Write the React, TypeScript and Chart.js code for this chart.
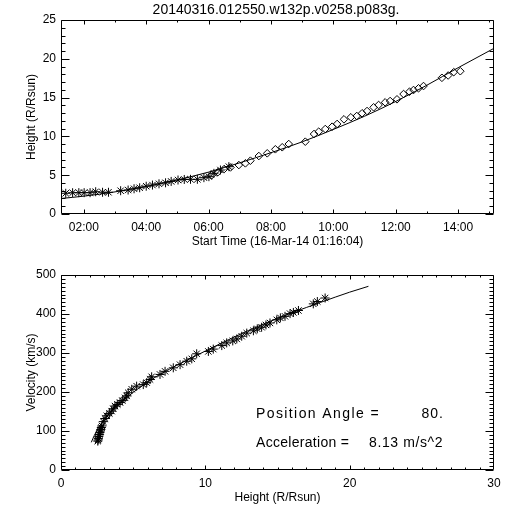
import React, { useEffect, useRef } from 'react';
import { Chart, registerables } from 'chart.js';

Chart.register(...registerables);

// ---------- Data ----------
const PLOT_TITLE = '20140316.012550.w132p.v0258.p083g.';

// Time axis (decimal hours on 16-Mar-14)
const timeMin = 1.268;
const timeMax = 15.15;
const timeTickValues = [2, 4, 6, 8, 10, 12, 14];
const timeTickLabels = ['02:00', '04:00', '06:00', '08:00', '10:00', '12:00', '14:00'];
const heightTickValues = [0, 5, 10, 15, 20, 25];

// Asterisk series (inner coronagraph)
const c2Times = [1.42, 1.64, 1.84, 2.01, 2.2, 2.38, 2.6, 2.79, 3.18, 3.42, 3.61, 3.79, 4.0, 4.2, 4.41, 4.62, 4.8, 5.02, 5.22, 5.42, 5.64, 5.85, 6.01, 6.17, 6.38, 6.65];
const c2Heights = [2.67, 2.74, 2.75, 2.75, 2.75, 2.87, 2.8, 2.8, 3.0, 3.09, 3.25, 3.38, 3.58, 3.73, 3.89, 4.02, 4.2, 4.38, 4.45, 4.47, 4.47, 4.68, 4.81, 5.24, 5.67, 6.1];

// Diamond series (outer coronagraph)
const c3Times = [6.1, 6.3, 6.5, 6.7, 6.97, 7.18, 7.34, 7.61, 7.88, 8.14, 8.36, 8.57, 9.1, 9.38, 9.53, 9.74, 9.96, 10.12, 10.34, 10.56, 10.75, 10.92, 11.08, 11.29, 11.45, 11.66, 11.82, 12.04, 12.25, 12.44, 12.57, 12.73, 12.89, 13.48, 13.68, 13.86, 14.07];
const c3Heights = [5.0, 5.4, 5.8, 6.0, 6.31, 6.53, 6.87, 7.47, 7.82, 8.34, 8.6, 9.02, 9.32, 10.31, 10.61, 10.95, 11.25, 11.6, 12.2, 12.46, 12.63, 12.98, 13.27, 13.75, 14.05, 14.39, 14.56, 14.78, 15.46, 15.76, 15.98, 16.2, 16.49, 17.55, 17.85, 18.28, 18.4];

// Height-time fit line
const fitTimes = [1.268, 2, 3, 4, 5, 6, 7, 8, 9, 10, 11, 12, 13, 14, 15.15];
const fitHeights = [2.0, 2.3, 2.85, 3.55, 4.4, 5.4, 6.6, 7.9, 9.3, 10.9, 12.6, 14.5, 16.6, 18.85, 21.35];

// Velocity vs height
const velHeightTicks = [0, 10, 20, 30];
const velTicks = [0, 100, 200, 300, 400, 500];
const velPtHeights = [2.55, 2.57, 2.59, 2.62, 2.66, 2.7, 2.73, 2.76, 2.8, 2.84, 2.93, 3.05, 3.17, 3.35, 3.51, 3.62, 3.74, 3.9, 4.09, 4.25, 4.44, 4.55, 4.66, 4.9, 5.24, 5.7, 5.94, 6.17, 6.28, 6.86, 7.21, 7.78, 8.25, 8.71, 9.06, 9.4, 10.21, 10.55, 11.14, 11.48, 11.9, 12.18, 12.52, 12.87, 13.33, 13.6, 13.9, 14.2, 14.48, 14.95, 15.2, 15.52, 15.87, 16.1, 16.45, 17.48, 17.76, 18.3];
const velPtValues = [74, 77, 81, 86, 91, 96, 100, 104, 109, 113, 124, 132, 139, 145, 151, 157, 164, 168, 173, 178, 185, 190, 198, 207, 215, 219, 224, 232, 239, 245, 253, 262, 270, 279, 285, 298, 304, 310, 319, 326, 331, 336, 343, 351, 357, 362, 366, 372, 377, 385, 390, 394, 401, 404, 409, 426, 432, 441];

const velFitHeights = [2.1, 2.3, 2.6, 3.0, 3.5, 4.0, 5.0, 6.0, 7.0, 8.0, 10.0, 12.0, 14.0, 16.0, 18.0, 20.0, 21.3];
const velFitValues = [71, 88, 108, 130, 150, 168, 199, 226, 248, 268, 305, 341, 374, 403, 430, 456, 471];

const POSITION_ANGLE = '80.';
const ACCELERATION = '8.13 m/s^2';

// ---------- Styling helpers ----------
const FONT_FAMILY = '"Liberation Sans", Arial, sans-serif';
const axisFont = { family: FONT_FAMILY, size: 12 };

const rangeTicks = (from: number, to: number, step: number, majorEvery: number) => {
  const out: [number, boolean][] = [];
  for (let v = from; v <= to + 1e-9; v += step) {
    out.push([v, Math.abs(v / majorEvery - Math.round(v / majorEvery)) < 1e-6]);
  }
  return out;
};

const idlFrame = {
  id: 'idlFrame',
  afterDraw(chart: any, _args: any, opts: any) {
    const { ctx, chartArea: a, scales } = chart;
    const xs = scales.x;
    const ys = scales.y;
    ctx.save();
    ctx.strokeStyle = '#000';
    ctx.lineWidth = 1;
    const L = Math.round(a.left) + 0.5;
    const R = Math.round(a.right) - 0.5;
    const T = Math.round(a.top) + 0.5;
    const B = Math.round(a.bottom) - 0.5;
    ctx.beginPath();
    ctx.rect(L, T, R - L, B - T);
    ctx.stroke();
    ctx.beginPath();
    for (const [v, major] of opts.xTicks) {
      const p = Math.round(xs.getPixelForValue(v)) + 0.5;
      if (p < L - 0.1 || p > R + 0.1) continue;
      const len = major ? opts.xLen : opts.xLen / 2;
      ctx.moveTo(p, B);
      ctx.lineTo(p, B - len);
      ctx.moveTo(p, T);
      ctx.lineTo(p, T + len);
    }
    for (const [v, major] of opts.yTicks) {
      const p = Math.round(ys.getPixelForValue(v)) + 0.5;
      if (p < T - 0.1 || p > B + 1.1) continue;
      const len = major ? opts.yLen : opts.yLen / 2;
      ctx.moveTo(L, p);
      ctx.lineTo(L + len, p);
      ctx.moveTo(R, p);
      ctx.lineTo(R - len, p);
    }
    ctx.stroke();
    ctx.fillStyle = '#000';
    ctx.textBaseline = 'middle';
    for (const t of opts.texts || []) {
      ctx.font = `${t.size}px ${FONT_FAMILY}`;
      ctx.textAlign = t.align || 'left';
      (ctx as any).letterSpacing = t.spacing ? `${t.spacing}px` : '0px';
      ctx.fillText(t.text, t.x, t.y);
    }
    (ctx as any).letterSpacing = '0px';
    ctx.restore();
  },
};

const xScaleBase = (min: number, max: number, values: number[], labels: string[], title: string) => ({
  type: 'linear' as const,
  min,
  max,
  afterBuildTicks: (s: any) => {
    s.ticks = values.map((v) => ({ value: v }));
  },
  afterFit: (s: any) => {
    s.height = 42;
  },
  ticks: {
    callback: (_v: any, i: number) => labels[i],
    font: axisFont,
    color: '#000',
    padding: 6,
    autoSkip: false,
    maxRotation: 0,
  },
  grid: { display: false, drawTicks: false },
  border: { display: false },
  title: { display: true, text: title, font: axisFont, color: '#000', padding: { top: 0, bottom: 7 } },
});

const yScaleBase = (min: number, max: number, values: number[], title: string) => ({
  type: 'linear' as const,
  min,
  max,
  afterBuildTicks: (s: any) => {
    s.ticks = values.map((v) => ({ value: v }));
  },
  afterFit: (s: any) => {
    s.width = 61;
  },
  ticks: {
    callback: (v: any) => String(v),
    font: axisFont,
    color: '#000',
    padding: 5,
    autoSkip: false,
  },
  grid: { display: false, drawTicks: false },
  border: { display: false },
  title: { display: true, text: title, font: axisFont, color: '#000', padding: { top: 24, bottom: 0 } },
});

function HeightChart() {
  const ref = useRef<HTMLCanvasElement>(null);
  useEffect(() => {
    const chart = new Chart(ref.current as HTMLCanvasElement, {
      type: 'scatter',
      data: {
        datasets: [
          {
            data: fitTimes.map((t, i) => ({ x: t, y: fitHeights[i] })),
            showLine: true,
            borderColor: '#000',
            borderWidth: 1,
            pointRadius: 0,
            cubicInterpolationMode: 'monotone',
          },
          {
            data: c2Times.map((t, i) => ({ x: t, y: c2Heights[i] })),
            pointStyle: 'star',
            pointRadius: 4.5,
            borderColor: '#000',
            backgroundColor: '#000',
            borderWidth: 1,
          },
          {
            data: c3Times.map((t, i) => ({ x: t, y: c3Heights[i] })),
            pointStyle: 'rectRot',
            pointRadius: 3.8,
            borderColor: '#000',
            backgroundColor: 'rgba(0,0,0,0)',
            borderWidth: 1,
          },
        ],
      },
      options: {
        responsive: false,
        animation: false,
        layout: { padding: { left: 0, right: 18, top: 20, bottom: 0 } },
        scales: {
          x: xScaleBase(timeMin, timeMax, timeTickValues, timeTickLabels, 'Start Time (16-Mar-14 01:16:04)'),
          y: yScaleBase(0, 25, heightTickValues, 'Height (R/Rsun)'),
        },
        plugins: {
          legend: { display: false },
          tooltip: { enabled: false },
          idlFrame: {
            xTicks: rangeTicks(2, 15, 1, 2),
            yTicks: rangeTicks(0, 25, 1, 5),
            xLen: 4,
            yLen: 8,
            texts: [{ text: PLOT_TITLE, x: 276, y: 10, size: 14, align: 'center' }],
          },
        } as any,
      },
      plugins: [idlFrame],
    } as any);
    return () => chart.destroy();
  }, []);
  return <canvas ref={ref} width={512} height={256} style={{ display: 'block', width: 512, height: 256 }} />;
}

function VelocityChart() {
  const ref = useRef<HTMLCanvasElement>(null);
  useEffect(() => {
    const chart = new Chart(ref.current as HTMLCanvasElement, {
      type: 'scatter',
      data: {
        datasets: [
          {
            data: velFitHeights.map((h, i) => ({ x: h, y: velFitValues[i] })),
            showLine: true,
            borderColor: '#000',
            borderWidth: 1,
            pointRadius: 0,
            cubicInterpolationMode: 'monotone',
          },
          {
            data: velPtHeights.map((h, i) => ({ x: h, y: velPtValues[i] })),
            pointStyle: 'star',
            pointRadius: 4.5,
            borderColor: '#000',
            backgroundColor: '#000',
            borderWidth: 1,
          },
        ],
      },
      options: {
        responsive: false,
        animation: false,
        layout: { padding: { left: 0, right: 18, top: 19, bottom: 0 } },
        scales: {
          x: xScaleBase(0, 30, velHeightTicks, velHeightTicks.map(String), 'Height (R/Rsun)'),
          y: yScaleBase(0, 500, velTicks, 'Velocity (km/s)'),
        },
        plugins: {
          legend: { display: false },
          tooltip: { enabled: false },
          idlFrame: {
            xTicks: rangeTicks(0, 30, 1, 10),
            yTicks: rangeTicks(0, 500, 10, 100),
            xLen: 4,
            yLen: 8,
            texts: [
              { text: 'Position Angle =', x: 256, y: 158, size: 14, spacing: 1.4 },
              { text: POSITION_ANGLE, x: 444, y: 158, size: 14, align: 'right', spacing: 1 },
              { text: 'Acceleration =', x: 256, y: 187, size: 14, spacing: 0.3 },
              { text: ACCELERATION, x: 369, y: 187, size: 14, spacing: 0.6 },
            ],
          },
        } as any,
      },
      plugins: [idlFrame],
    } as any);
    return () => chart.destroy();
  }, []);
  return <canvas ref={ref} width={512} height={256} style={{ display: 'block', width: 512, height: 256 }} />;
}

export default function App() {
  return (
    <div style={{ position: 'absolute', left: 0, top: 0, width: 512, height: 512, background: '#fff' }}>
      <HeightChart />
      <VelocityChart />
    </div>
  );
}
